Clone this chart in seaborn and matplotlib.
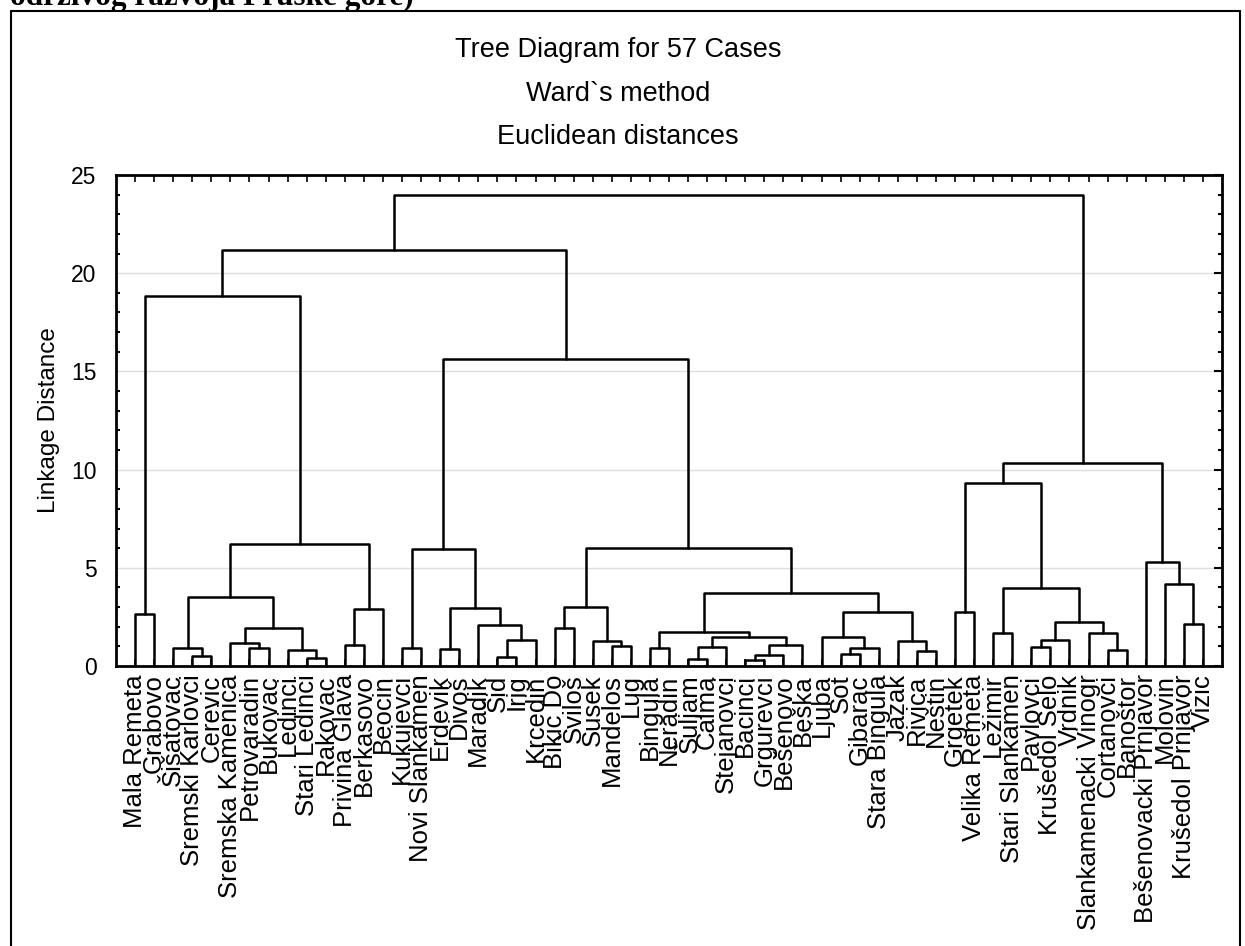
import numpy as np
import pandas as pd
import seaborn as sns
import matplotlib.pyplot as plt
from matplotlib.lines import Line2D
from matplotlib.ticker import MultipleLocator

# leaves in the order they appear on the x axis
leaves = ["Mala Remeta", "Grabovo", "Šišatovac", "Sremski Karlovci", "Cerevic",
          "Sremska Kamenica", "Petrovaradin", "Bukovac", "Ledinci", "Stari Ledinci",
          "Rakovac", "Privina Glava", "Berkasovo", "Beocin", "Kukujevci",
          "Novi Slankamen", "Erdevik", "Divoš", "Maradik", "Šid", "Irig", "Krcedin",
          "Bikic Do", "Šviloš", "Susek", "Mandelos", "Lug", "Bingula", "Neradin",
          "Šuljam", "Calma", "Stejanovci", "Bacinci", "Grgurevci", "Bešenovo",
          "Beška", "Ljuba", "Sot", "Gibarac", "Stara Bingula", "Jazak", "Rivica",
          "Neštin", "Grgetek", "Velika Remeta", "Ležimir", "Stari Slankamen",
          "Pavlovci", "Krušedol Selo", "Vrdnik", "Slankamenacki Vinogr",
          "Cortanovci", "Banoštor", "Bešenovacki Prnjavor", "Molovin",
          "Krušedol Prnjavor", "Vizic"]

# merges: new cluster id = 57 + row number (scipy-like linkage)
merge_a = [32, 29, 9, 19, 3, 57, 37, 41, 8, 51, 16, 2, 6, 14, 27, 63, 58, 47,
           25, 11, 62, 5, 40, 24, 60, 74, 73, 36, 45, 50, 71, 22, 78, 18, 55,
           82, 0, 43, 84, 76, 67, 88, 68, 87, 85, 54, 53, 70, 98, 99, 94, 107,
           104, 93, 110, 111]
merge_b = [33, 30, 10, 20, 4, 34, 38, 42, 59, 52, 17, 61, 7, 15, 28, 39, 31, 48,
           26, 12, 35, 69, 64, 75, 21, 49, 77, 72, 46, 66, 83, 23, 65, 81, 56,
           86, 1, 44, 79, 13, 90, 80, 89, 95, 92, 91, 102, 97, 100, 96, 101, 103,
           105, 106, 109, 108]
merge_h = [0.31, 0.37, 0.42, 0.44, 0.53, 0.56, 0.60, 0.76, 0.82, 0.82, 0.85,
           0.90, 0.90, 0.90, 0.93, 0.93, 0.98, 0.98, 1.02, 1.07, 1.07, 1.15,
           1.27, 1.27, 1.31, 1.32, 1.46, 1.46, 1.66, 1.66, 1.71, 1.92, 1.92,
           2.09, 2.14, 2.26, 2.63, 2.73, 2.73, 2.88, 2.94, 3.02, 3.50, 3.70,
           3.99, 4.16, 5.28, 5.96, 6.03, 6.21, 9.30, 10.32, 15.62, 18.84,
           21.2, 24.0]

# build the U-shaped links
pos = {i: float(i) for i in range(len(leaves))}
hgt = {i: 0.0 for i in range(len(leaves))}
rows = []
for k, (a, b, d) in enumerate(zip(merge_a, merge_b, merge_h)):
    node = len(leaves) + k
    pos[node] = (pos[a] + pos[b]) / 2
    hgt[node] = d
    for x, y in [(pos[a], hgt[a]), (pos[a], d), (pos[b], d), (pos[b], hgt[b])]:
        rows.append({"seg": k, "x": x, "y": y})
segs = pd.DataFrame(rows)

sns.set_style("white")
plt.rcParams['font.family'] = ['Liberation Sans', 'DejaVu Sans']
plt.rcParams['text.color'] = 'black'
plt.rcParams['axes.labelcolor'] = 'black'

fig = plt.figure(figsize=(12.45, 9.46), dpi=100)
W, H = 1245, 946
ax = fig.add_axes([116 / W, 1 - 666 / H, (1222 - 116) / W, (666 - 175) / H])

for g in [5, 10, 15, 20]:
    ax.axhline(g, color='#dedede', lw=1, zorder=0)

sns.lineplot(data=segs, x="x", y="y", units="seg", estimator=None, sort=False,
             color="black", lw=1.8, ax=ax, legend=False)

ax.set_xlim(-1, len(leaves))
ax.set_ylim(0, 25)
ax.set_xticks(range(len(leaves)))
ax.set_xticklabels(leaves, rotation=90, fontsize=18.5)
ax.yaxis.set_major_locator(MultipleLocator(5))
ax.yaxis.set_minor_locator(MultipleLocator(1))
ax.tick_params(axis='y', which='major', direction='in', length=6, width=1.5,
               right=True, labelsize=16.5, pad=14, colors='black')
ax.tick_params(axis='y', which='minor', direction='in', length=3, width=1.5,
               right=True, left=True, colors='black')
ax.tick_params(axis='x', direction='in', length=5, width=1.2, top=True,
               bottom=True, pad=6, colors='black')
ax.set_xlabel("")
ax.set_ylabel("Linkage Distance", fontsize=17.5, labelpad=8)
for s in ax.spines.values():
    s.set_visible(True)
    s.set_color('black')
    s.set_linewidth(2)

fig.text(618 / W, 1 - 50 / H, "Tree Diagram for 57 Cases", ha='center', va='center', fontsize=19.5)
fig.text(618 / W, 1 - 94 / H, "Ward`s method", ha='center', va='center', fontsize=19.5)
fig.text(618 / W, 1 - 137 / H, "Euclidean distances", ha='center', va='center', fontsize=19.5)

# page text cut at the top and the frame of the figure box
fig.text(10 / W, 1 - 5 / H, "održivog razvoja Fruške gore)", ha='left', va='baseline',
         fontsize=22.5, fontweight='bold', family=['Liberation Serif', 'DejaVu Serif'])
fig.add_artist(Line2D([11 / W, 11 / W], [0, 1 - 11 / H], color='black', lw=1.5))
fig.add_artist(Line2D([11 / W, 1240 / W], [1 - 11 / H, 1 - 11 / H], color='black', lw=1.5))
fig.add_artist(Line2D([1240 / W, 1240 / W], [0, 1 - 11 / H], color='black', lw=1.5))

fig.savefig("out.png", dpi=100)
